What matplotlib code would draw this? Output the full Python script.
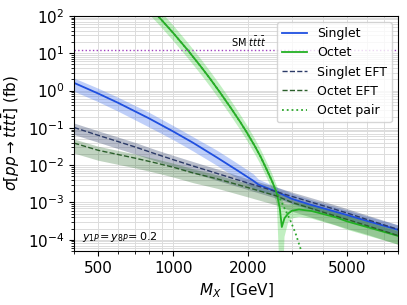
import numpy as np
import matplotlib
matplotlib.use('Agg')
import matplotlib.pyplot as plt
from matplotlib.ticker import NullFormatter, FixedLocator, FixedFormatter

# Singlet (full)
m_s = [400, 500, 600, 800, 1000, 1200, 1500, 1800, 2100, 2200, 2600, 3000, 3500, 4000, 5000, 6000, 8000]
s_val = [1.60, 0.83, 0.47, 0.179, 0.080, 0.040, 0.016, 0.0074, 0.0038, 0.0030,
         1.95e-3, 1.25e-3, 9.0e-4, 7.0e-4, 4.6e-4, 3.2e-4, 1.85e-4]
s_lo = [0.95, 0.50, 0.28, 0.105, 0.048, 0.024, 0.0098, 0.0045, 0.0024, 0.0021,
        1.45e-3, 9.2e-4, 6.6e-4, 5.1e-4, 3.35e-4, 2.35e-4, 1.4e-4]
s_hi = [2.15, 1.15, 0.66, 0.26, 0.115, 0.058, 0.025, 0.0115, 0.0058, 0.0042,
        2.6e-3, 1.75e-3, 1.25e-3, 9.5e-4, 6.2e-4, 4.3e-4, 2.5e-4]

# Singlet EFT
m_se = [400, 500, 700, 850, 1000, 1200, 1500, 2000, 2500, 3000, 4000, 5000, 6000, 8000]
se_val = [0.102, 0.063, 0.031, 0.020, 0.0140, 0.0095, 0.0060, 0.0033, 0.0021, 0.00145,
          8.2e-4, 5.2e-4, 3.5e-4, 1.9e-4]
se_lo = [0.066, 0.041, 0.020, 0.013, 0.0091, 0.0062, 0.0039, 0.0022, 0.0014, 9.5e-4,
         5.4e-4, 3.4e-4, 2.3e-4, 1.25e-4]
se_hi = [0.134, 0.083, 0.041, 0.026, 0.0183, 0.0125, 0.0079, 0.0043, 0.0028, 0.0019,
         1.08e-3, 6.8e-4, 4.6e-4, 2.5e-4]

# Octet EFT
m_oe = [400, 500, 700, 850, 1000, 1200, 1500, 2000, 2600, 3000, 4000, 5000, 6000, 8000]
oe_val = [0.039, 0.025, 0.0155, 0.0115, 0.0088, 0.0062, 0.0043, 0.0025, 1.5e-3, 1.0e-3,
          5.5e-4, 3.5e-4, 2.4e-4, 1.3e-4]
oe_lo = [0.021, 0.0135, 0.0085, 0.0063, 0.0048, 0.0034, 0.0024, 0.0014, 8.5e-4, 5.8e-4,
         3.2e-4, 2.0e-4, 1.4e-4, 7.5e-5]
oe_hi = [0.050, 0.032, 0.020, 0.0148, 0.0113, 0.0080, 0.0055, 0.0032, 1.9e-3, 1.28e-3,
         7.0e-4, 4.5e-4, 3.1e-4, 1.7e-4]

# Octet (full)
m_o = [750, 873, 1000, 1151, 1300, 1407, 1545, 1700, 1857, 1976, 2130, 2250, 2377, 2500,
       2608, 2680, 2731, 2800, 2900, 3000, 3200, 3600, 4000, 4500, 5000, 6000, 8000]
o_val = [280, 96, 34.9, 11.5, 4.14, 2.07, 0.87, 0.35, 0.145, 0.075, 0.032, 0.0163, 7.5e-3,
         3.6e-3, 1.75e-3, 7e-4, 2.2e-4, 3.8e-4, 5.1e-4, 6.0e-4, 6.5e-4, 5.9e-4, 4.9e-4,
         4.0e-4, 3.1e-4, 2.2e-4, 1.27e-4]
o_lo = [175, 60, 21.6, 7.1, 2.57, 1.28, 0.54, 0.217, 0.09, 0.0465, 0.0198, 0.0101, 4.6e-3,
        2.2e-3, 9e-4, 1e-5, 1e-6, 1.2e-4, 3.0e-4, 3.7e-4, 4.1e-4, 3.7e-4, 3.0e-4,
        2.4e-4, 1.85e-4, 1.3e-4, 7.5e-5]
o_hi = [450, 154, 56, 18.4, 6.6, 3.3, 1.4, 0.56, 0.23, 0.12, 0.051, 0.026, 1.2e-2,
        5.8e-3, 2.8e-3, 1.7e-3, 1.2e-3, 9e-4, 8.5e-4, 9e-4, 9.5e-4, 8.6e-4, 7.2e-4,
        5.9e-4, 4.6e-4, 3.3e-4, 1.9e-4]

# Octet pair
m_op = [750, 873, 1000, 1151, 1300, 1407, 1545, 1700, 1857, 1976, 2130, 2250, 2377, 2500,
        2608, 2772, 2950, 3100, 3242, 3350]
op_val = [280, 96, 34.9, 11.5, 4.14, 2.07, 0.87, 0.35, 0.145, 0.075, 0.032, 0.0163, 7.5e-3,
          3.6e-3, 1.85e-3, 8e-4, 3.4e-4, 1.5e-4, 6e-5, 3e-5]

SM_TTTT = 11.9

c_s = '#1f4fe0'
c_o = '#22b022'
c_se = '#2b3a67'
c_oe = '#2a5e2a'
c_op = '#2ea82e'

fig = plt.figure(figsize=(4.07, 3.05), dpi=100)
ax = fig.add_axes([0.182, 0.177, 0.796, 0.771])

ax.fill_between(m_s, s_lo, s_hi, color='#4a78f0', alpha=0.35, lw=0)
ax.fill_between(m_o, o_lo, o_hi, color='#33cc33', alpha=0.3, lw=0)
ax.fill_between(m_se, se_lo, se_hi, color='#3a4a70', alpha=0.35, lw=0)
ax.fill_between(m_oe, oe_lo, oe_hi, color='#2f6f2f', alpha=0.3, lw=0)

ax.plot(m_s, s_val, color=c_s, lw=1.3, label='Singlet')
ax.plot(m_o, o_val, color=c_o, lw=1.3, label='Octet')
ax.plot(m_se, se_val, color=c_se, lw=1.0, ls='--', label='Singlet EFT')
ax.plot(m_oe, oe_val, color=c_oe, lw=1.0, ls='--', label='Octet EFT')
ax.plot(m_op, op_val, color=c_op, lw=1.3, ls=':', label='Octet pair')

ax.axhline(SM_TTTT, color='#a040c0', lw=1.0, ls=':')
ax.text(1700, 14.5, r'SM $t\bar{t}t\bar{t}$', fontsize=7)
ax.text(0.025, 0.045, r'$y_{1P}\!=y_{8P}\!=0.2$', transform=ax.transAxes, fontsize=8)

ax.set_xscale('log')
ax.set_yscale('log')
ax.set_xlim(400, 8000)
ax.set_ylim(5e-5, 100)
ax.xaxis.set_major_locator(FixedLocator([500, 1000, 2000, 5000]))
ax.xaxis.set_major_formatter(FixedFormatter(['500', '1000', '2000', '5000']))
ax.xaxis.set_minor_formatter(NullFormatter())
ax.yaxis.set_major_locator(FixedLocator([1e-4, 1e-3, 1e-2, 1e-1, 1, 10, 100]))
ax.tick_params(labelsize=11)
ax.grid(which='both', color='#dcdcdc', lw=0.7)
ax.set_axisbelow(True)

ax.set_xlabel(r'$M_X$  [GeV]', fontsize=11)
ax.set_ylabel(r'$\sigma[pp \rightarrow t\bar{t}t\bar{t}]$ (fb)', fontsize=11)
ax.legend(loc='upper right', fontsize=9)

fig.savefig('out.png', dpi=100)
